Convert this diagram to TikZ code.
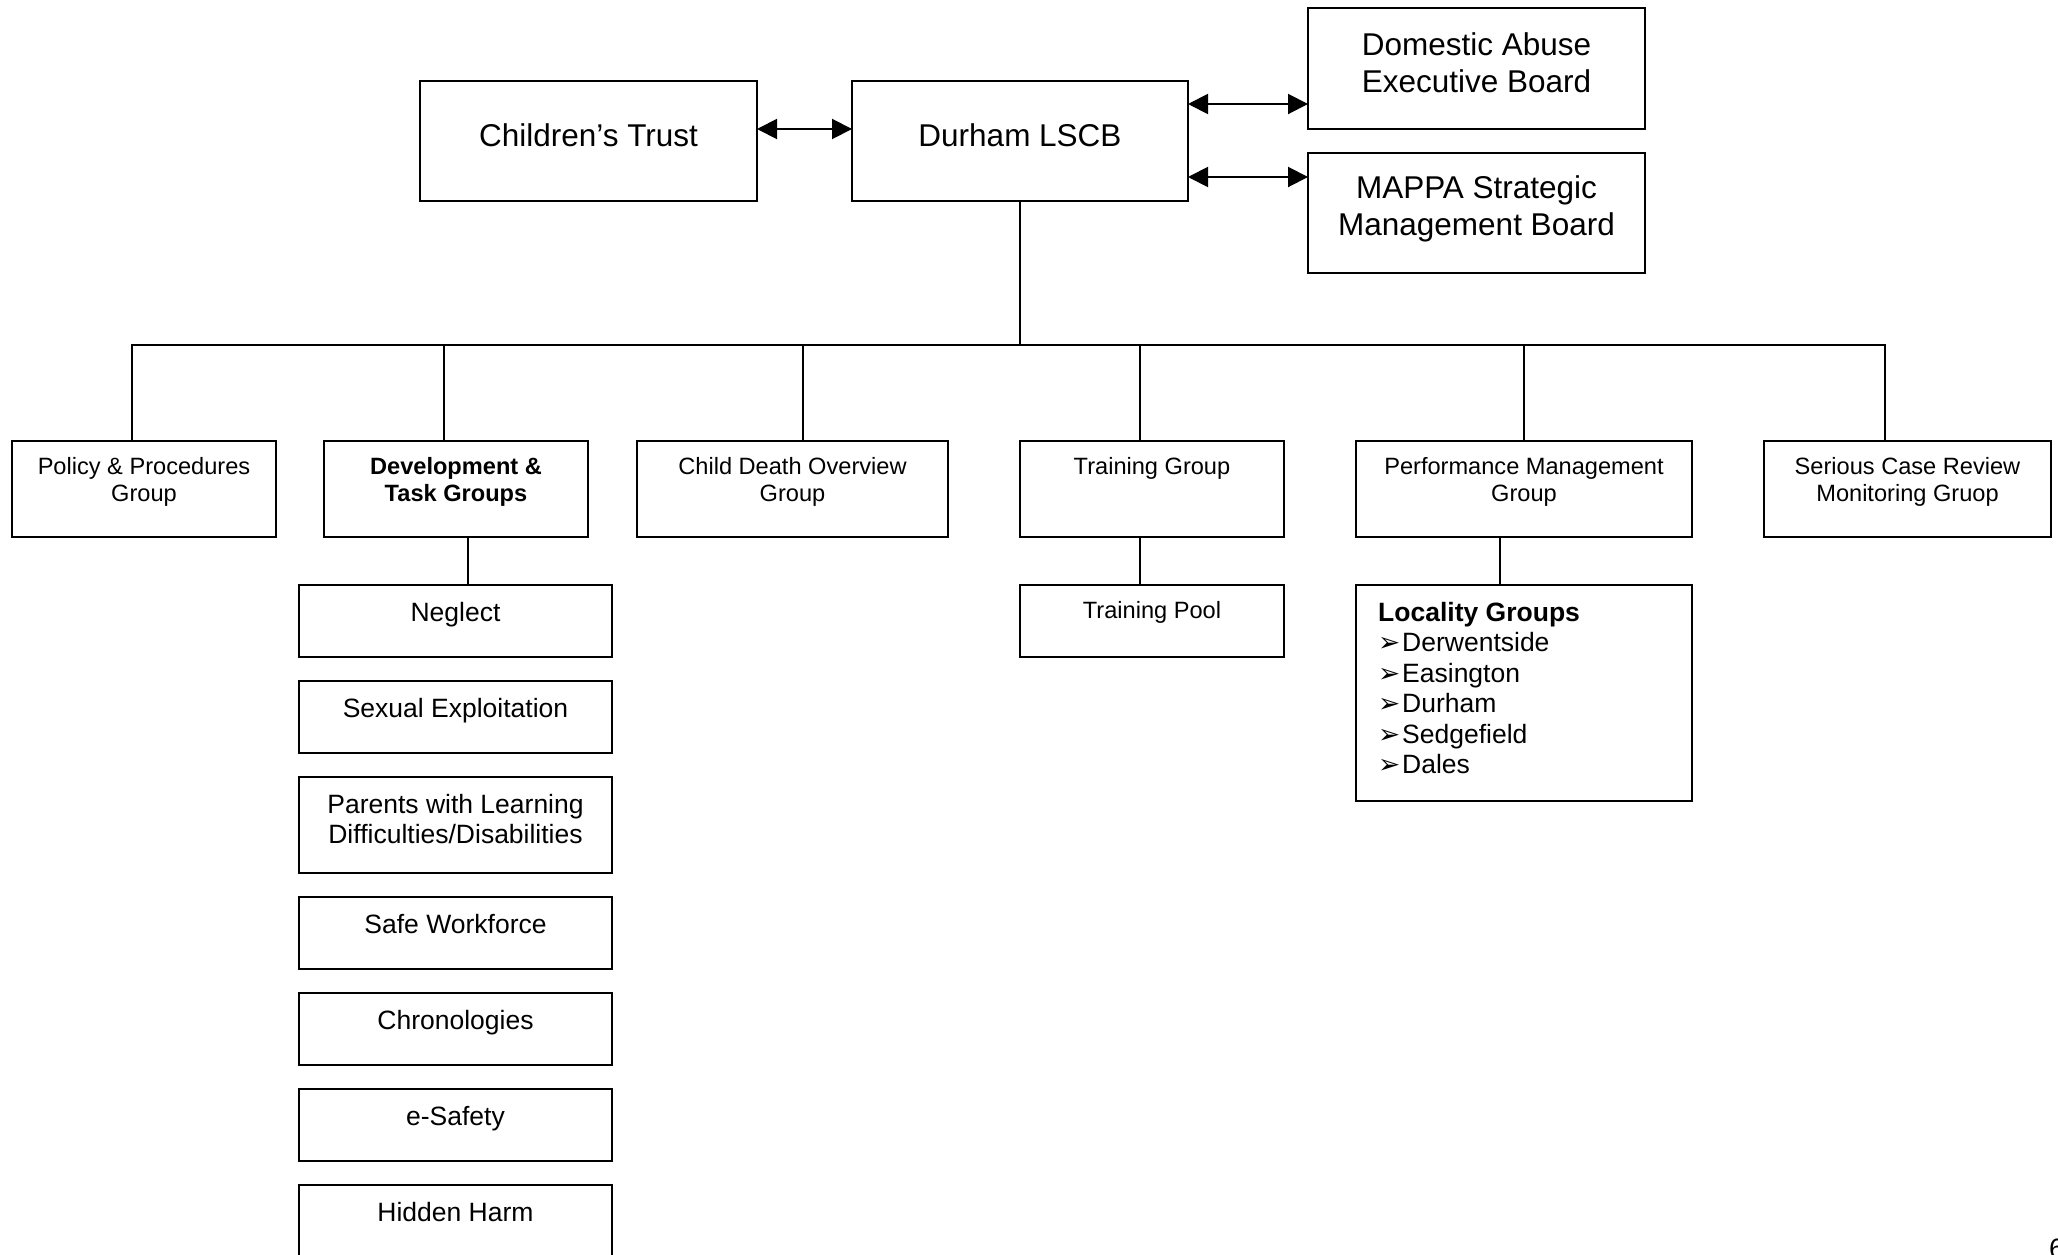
\documentclass[tikz,border=0pt]{standalone}
\usepackage{fontspec}
\setmainfont{Liberation Sans}
\newfontfamily\dejavu{DejaVu Sans}
\usetikzlibrary{arrows.meta,fit}
\newcommand\lbul{\makebox[24pt][l]{\dejavu ➢}}
\begin{document}
\begin{tikzpicture}[x=1pt,y=-1pt,
  box/.style={draw=black, line width=2.3pt, inner sep=0pt, outer sep=0pt},
  conn/.style={draw=black, line width=2pt},
  arr/.style={conn, {Triangle[length=20pt,width=20pt]}-{Triangle[length=20pt,width=20pt]}},
  bigtxt/.style={font=\fontsize{31.5}{37}\selectfont, align=center, inner sep=0pt, anchor=north},
  smalltxt/.style={font=\fontsize{23.6}{27.5}\selectfont, align=center, inner sep=0pt, anchor=north},
  subtxt/.style={font=\fontsize{26.5}{30.5}\selectfont, align=center, inner sep=0pt, anchor=north},
]
\fill[white] (0,0) rectangle (2058,1255);
\useasboundingbox (0,0) rectangle (2058,1255);

% top boxes
\node[box, fit={(420,81) (757,201)}] (ct) {};
\node[box, fit={(852,81) (1188,201)}] (lscb) {};
\node[box, fit={(1308,8) (1645,129)}] (da) {};
\node[box, fit={(1308,153) (1645,273)}] (mappa) {};

\node[bigtxt] (ctt) at ([yshift=-42pt]ct.north) {Children’s Trust};
\node[bigtxt] (lscbt) at ([yshift=-42pt]lscb.north) {Durham LSCB};
\node[bigtxt] (dat) at ([yshift=-24pt]da.north) {Domestic Abuse\\Executive Board};
\node[bigtxt] (mappat) at ([yshift=-22pt]mappa.north) {MAPPA Strategic\\Management Board};

% arrows
\draw[arr] ([yshift=12pt]ct.east) -- ([yshift=12pt]ct.east -| lscb.west);
\draw[arr] ([yshift=37pt]lscb.east) -- ([yshift=37pt]lscb.east -| da.west);
\draw[arr] ([yshift=-36pt]lscb.east) -- ([yshift=-36pt]lscb.east -| mappa.west);

% row of groups
\node[box, fit={(12,441) (276,537)}] (pol) {};
\node[box, fit={(324,441) (588,537)}] (dev) {};
\node[box, fit={(637,441) (948,537)}] (cdo) {};
\node[box, fit={(1020,441) (1284,537)}] (tg) {};
\node[box, fit={(1356,441) (1692,537)}] (pm) {};
\node[box, fit={(1764,441) (2051,537)}] (scr) {};

\node[smalltxt] (polt) at ([yshift=-16pt]pol.north) {Policy \& Procedures\\Group};
\node[smalltxt] (devt) at ([yshift=-16pt]dev.north) {\bfseries Development \&\\\bfseries Task Groups};
\node[smalltxt] (cdot) at ([yshift=-16pt]cdo.north) {Child Death Overview\\Group};
\node[smalltxt] (tgt) at ([yshift=-16pt]tg.north) {Training Group};
\node[smalltxt] (pmt) at ([yshift=-16pt]pm.north) {Performance Management\\Group};
\node[smalltxt] (scrt) at ([yshift=-16pt]scr.north) {Serious Case Review\\Monitoring Gruop};

% bus and drops
\draw[conn] ([xshift=-12pt]pol.north) -- ++(0,-96) -| ([xshift=-22.5pt]scr.north);
\coordinate (bus) at ([xshift=-12pt,yshift=96pt]pol.north);
\draw[conn] (lscb.south) -- (lscb.south |- bus);
\draw[conn] ([xshift=-12pt]dev.north) -- ([xshift=-12pt]dev.north |- bus);
\draw[conn] ([xshift=10.5pt]cdo.north) -- ([xshift=10.5pt]cdo.north |- bus);
\draw[conn] ([xshift=-12pt]tg.north) -- ([xshift=-12pt]tg.north |- bus);
\draw[conn] (pm.north) -- (pm.north |- bus);

% sub boxes
\node[box, fit={(299,585) (612,657)}] (neg) {};
\node[box, fit={(299,681) (612,753)}] (sex) {};
\node[box, fit={(299,777) (612,873)}] (par) {};
\node[box, fit={(299,897) (612,969)}] (safe) {};
\node[box, fit={(299,993) (612,1065)}] (chron) {};
\node[box, fit={(299,1089) (612,1161)}] (esaf) {};
\node[box, fit={(299,1185) (612,1257)}] (hid) {};
\node[box, fit={(1020,585) (1284,657)}] (pool) {};
\node[box, fit={(1356,585) (1692,801)}] (loc) {};

\node[subtxt] (negt) at ([yshift=-17pt]neg.north) {Neglect};
\node[subtxt] (sext) at ([yshift=-17pt]sex.north) {Sexual Exploitation};
\node[subtxt] (part) at ([yshift=-17pt]par.north) {Parents with Learning\\Difficulties/Disabilities};
\node[subtxt] (safet) at ([yshift=-17pt]safe.north) {Safe Workforce};
\node[subtxt] (chront) at ([yshift=-17pt]chron.north) {Chronologies};
\node[subtxt] (esaft) at ([yshift=-17pt]esaf.north) {e-Safety};
\node[subtxt] (hidt) at ([yshift=-17pt]hid.north) {Hidden Harm};
\node[smalltxt] (poolt) at ([yshift=-16pt]pool.north) {Training Pool};
\node[subtxt, align=left, anchor=north west] (loct) at ([xshift=22pt,yshift=-17pt]loc.north west)
  {\textbf{Locality Groups}\\\lbul Derwentside\\\lbul Easington\\\lbul Durham\\\lbul Sedgefield\\\lbul Dales};

% sub connectors
\draw[conn] ([xshift=12pt]dev.south) -- ([xshift=12pt]dev.south |- neg.north);
\draw[conn] ([xshift=-12pt]tg.south) -- ([xshift=-12pt]tg.south |- pool.north);
\draw[conn] ([xshift=-24pt]pm.south) -- ([xshift=-24pt]pm.south |- loc.north);

% page number
\node[font=\fontsize{28}{32}\selectfont, anchor=base west, inner sep=0pt] (pg) at (2049,1258) {6};
\end{tikzpicture}
\end{document}
